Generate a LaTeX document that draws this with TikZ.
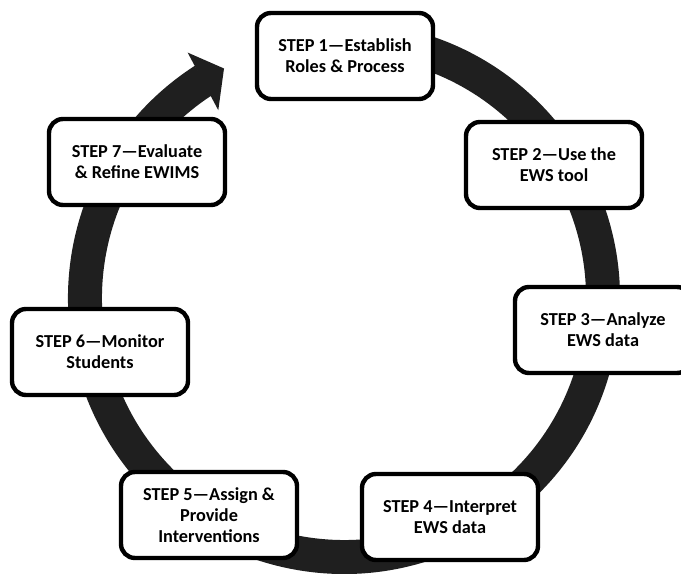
\documentclass[tikz,border=0pt]{standalone}
\usepackage{fontspec}
\setmainfont{Carlito}
\usetikzlibrary{positioning,backgrounds}

\begin{document}
\begin{tikzpicture}[x=0.25mm,y=0.25mm]
    \tikzstyle{every node} = [font=\bfseries\fontsize{13}{14.8}\selectfont]
    \tikzstyle{stepbox} = [draw, line width=1.1mm, rectangle, fill=white, rounded corners=3.5mm, minimum width=44mm, minimum height=21.5mm, align=center, inner sep=1mm]
    \tikzstyle{ring} = [draw=black!88, line width=8.5mm]
    \useasboundingbox (-344,-276) rectangle (337,298);
    % place nodes
    \node[stepbox] (stepOne) at (1,242) {STEP 1---Establish\\Roles \& Process};
    \node[stepbox] (stepTwo) at (210,133) {STEP 2---Use the\\EWS tool};
    \node[stepbox] (stepThree) at (259,-32) {STEP 3---Analyze\\EWS data};
    \node[stepbox] (stepFour) at (106,-219) {STEP 4---Interpret\\EWS data};
    \node[stepbox] (stepFive) at (-135,-217) {STEP 5---Assign \&\\Provide\\Interventions};
    \node[stepbox] (stepSix) at (-244,-54) {STEP 6---Monitor\\Students};
    \node[stepbox] (stepSeven) at (-207,136) {STEP 7---Evaluate\\\& Refine EWIMS};

    % cycle arrow behind the boxes
    \begin{scope}[on background layer]
    \draw[ring] (80:259) arc[start angle=80, end angle=-237.3, radius=259];
    \fill[black!88] (122.5:291) -- (117.6:259) -- (123.8:226) -- cycle;
    \end{scope}
\end{tikzpicture}
\end{document}
